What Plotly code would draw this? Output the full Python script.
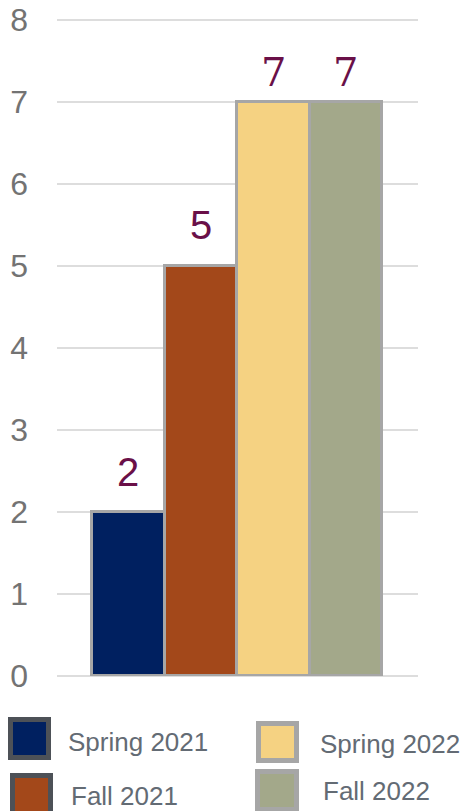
import plotly.graph_objects as go

# Semester counts
terms = ["Spring 2021", "Fall 2021", "Spring 2022", "Fall 2022"]
counts = [2, 5, 7, 7]
bar_colors = ["#002060", "#A3481A", "#F5D282", "#A3A88A"]
legend_edge = ["#4D5157", "#4D5157", "#A6A6A6", "#A6A6A6"]
label_fonts = ["Liberation Sans", "Liberation Sans", "DejaVu Serif", "DejaVu Serif"]
label_lift = [40, 41, 30, 30]

Y_TOP = 8.04  # a little headroom so the top gridline is kept
W, H = 463, 811
ML, MR, MB = 57, 45, 135
UNIT = 82  # pixels per count
MT = H - MB - UNIT * Y_TOP
PW, PH = W - ML - MR, H - MT - MB


def px_x(x):
    return (x - ML) / PW


def px_y(y):
    return (H - MB - y) / PH


xs = list(range(len(terms)))
fig = go.Figure(
    go.Bar(
        x=xs,
        y=counts,
        width=1.0,
        marker=dict(color=bar_colors, line=dict(color="#A6A6A6", width=3)),
        showlegend=False,
        hoverinfo="skip",
    )
)

# value labels above the bars
for i, v in enumerate(counts):
    fig.add_annotation(
        x=xs[i], y=v, text=str(v), showarrow=False,
        yanchor="middle", yshift=label_lift[i],
        font=dict(family=label_fonts[i], size=40, color="#6A1048"),
    )

# legend drawn as two columns of swatches
swatches = [
    (8, 717, 51, 760, 66, 742),
    (10, 773, 53, 816, 69, 796),
    (256, 721, 299, 763, 318, 744),
    (255, 769, 299, 812, 321, 791),
]
for i, (x0, y0, x1, y1, tx, ty) in enumerate(swatches):
    fig.add_shape(
        type="rect", xref="paper", yref="paper",
        x0=px_x(x0 + 2.5), x1=px_x(x1 - 2.5), y0=px_y(y0 + 2.5), y1=px_y(y1 - 2.5),
        fillcolor=bar_colors[i], line=dict(color=legend_edge[i], width=5),
    )
    fig.add_annotation(
        xref="paper", yref="paper", x=px_x(tx), y=px_y(ty),
        xanchor="left", yanchor="middle", text=terms[i], showarrow=False,
        font=dict(family="Liberation Sans", size=26, color="#636B74"),
    )

fig.update_layout(
    width=W, height=H,
    margin=dict(l=ML, r=MR, t=MT, b=MB, autoexpand=False),
    plot_bgcolor="white", paper_bgcolor="white",
    bargap=0,
    xaxis=dict(range=[-0.5 - 35 / 72.5, 3.5 + 36 / 72.5], showticklabels=False,
               showgrid=False, zeroline=False, showline=False, fixedrange=True,
               automargin=False),
    yaxis=dict(range=[0, Y_TOP], tickvals=list(range(0, 9)), showgrid=True,
               gridcolor="#DDDDDD", gridwidth=2,
               zeroline=True, zerolinecolor="#DDDDDD", zerolinewidth=2,
               showline=False, ticks="", ticklabelstandoff=28, automargin=False,
               tickfont=dict(family="Liberation Sans", size=32, color="#737373")),
)

fig.write_html("out.html")
